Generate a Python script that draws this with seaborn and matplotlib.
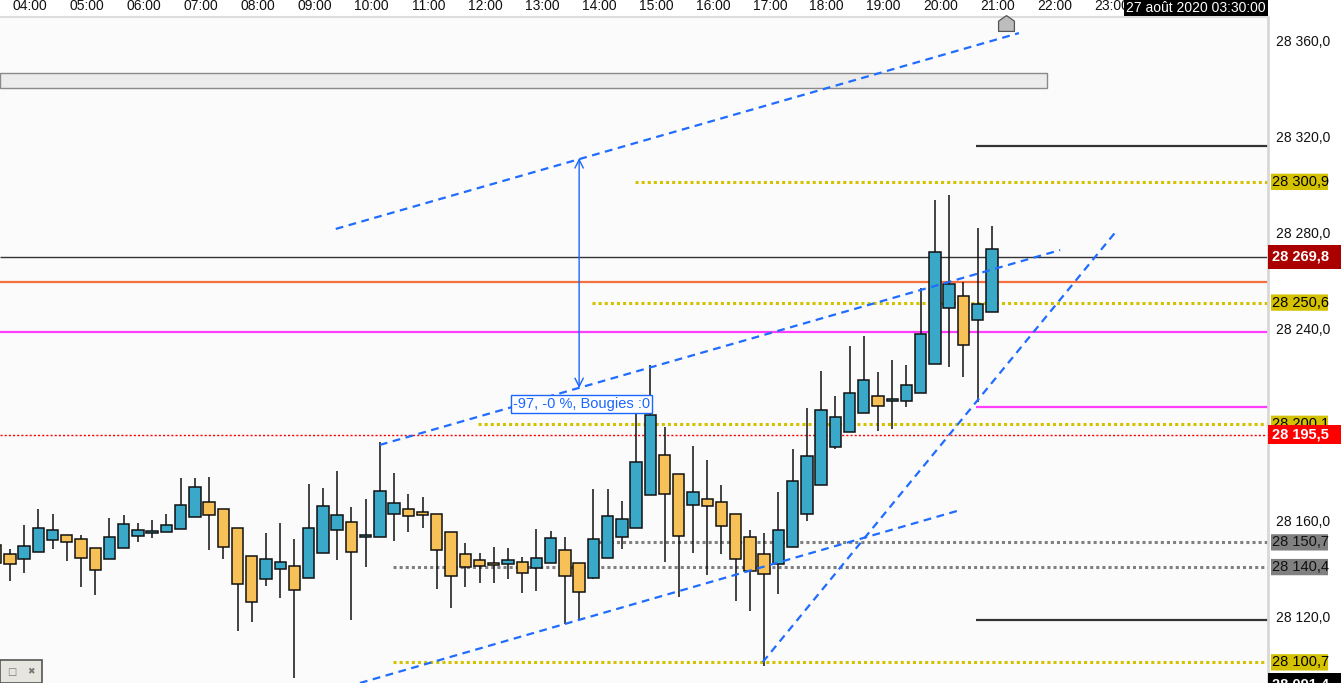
import matplotlib
matplotlib.use("Agg")
import matplotlib.pyplot as plt
import matplotlib.patches as mpatches
from matplotlib.path import Path
from matplotlib.transforms import blended_transform_factory
import numpy as np
import pandas as pd
import seaborn as sns

# 15 minute candles (first one is cut by the left edge)
opens = [28149.6, 28145.7, 28143.6, 28146.5, 28151.5, 28153.6, 28152.0, 28148.2, 28143.6, 28148.2,
         28153.2, 28154.5, 28154.9, 28156.1, 28161.1, 28167.4, 28164.5, 28156.5, 28144.9, 28135.3,
         28139.5, 28140.7, 28135.7, 28146.1, 28155.7, 28159.0, 28153.0, 28152.8, 28162.4, 28164.5,
         28163.2, 28162.4, 28154.9, 28145.7, 28143.2, 28142.0, 28141.5, 28142.4, 28139.9, 28142.0,
         28147.4, 28142.0, 28135.7, 28144.0, 28152.8, 28156.5, 28170.3, 28187.0, 28179.0, 28166.1,
         28168.6, 28167.4, 28162.4, 28152.8, 28145.7, 28141.5, 28148.6, 28162.4, 28174.5, 28190.3,
         28196.5, 28204.5, 28211.5, 28209.7, 28209.5, 28212.8, 28224.9, 28248.2, 28253.2, 28243.2,
         28246.5]
highs = [28151.0, 28147.9, 28157.9, 28164.6, 28162.5, 28153.6, 28153.6, 28148.2, 28160.8, 28162.1,
         28158.8, 28160.0, 28162.5, 28177.5, 28177.5, 28177.9, 28164.5, 28156.5, 28144.9, 28154.6,
         28158.8, 28152.0, 28175.0, 28173.3, 28180.4, 28165.5, 28168.8, 28192.4, 28179.5, 28170.7,
         28169.6, 28162.4, 28154.9, 28150.3, 28146.1, 28148.6, 28148.2, 28144.5, 28156.1, 28155.3,
         28152.8, 28142.0, 28172.8, 28172.8, 28167.8, 28204.9, 28224.5, 28198.8, 28179.0, 28190.8,
         28185.0, 28174.6, 28162.4, 28155.7, 28154.6, 28171.5, 28189.6, 28206.5, 28222.0, 28211.7,
         28232.5, 28236.7, 28221.5, 28226.5, 28224.5, 28256.5, 28293.2, 28295.4, 28259.0, 28281.5,
         28282.4]
lows = [28138.0, 28134.7, 28138.0, 28146.5, 28148.0, 28143.0, 28132.2, 28128.9, 28143.6, 28148.2,
        28150.7, 28152.6, 28154.9, 28156.1, 28161.1, 28147.6, 28143.9, 28113.9, 28117.6, 28132.6,
        28127.6, 28094.3, 28135.7, 28146.1, 28143.5, 28118.3, 28140.5, 28152.8, 28151.4, 28155.1,
        28156.5, 28131.4, 28123.5, 28132.2, 28133.9, 28133.9, 28135.5, 28129.7, 28130.5, 28142.0,
        28116.5, 28118.6, 28135.3, 28144.0, 28148.0, 28156.5, 28170.3, 28142.4, 28128.0, 28146.4,
        28137.2, 28146.0, 28126.4, 28122.2, 28099.0, 28129.3, 28148.6, 28159.7, 28174.5, 28189.7,
        28196.5, 28204.5, 28197.2, 28197.8, 28207.2, 28212.8, 28224.9, 28223.9, 28219.7, 28209.0,
        28246.5]
closes = [28142.1, 28141.5, 28149.0, 28156.5, 28155.7, 28150.7, 28144.0, 28139.0, 28152.8, 28158.2,
          28155.7, 28155.4, 28157.8, 28166.1, 28173.6, 28162.0, 28148.6, 28133.2, 28125.7, 28143.6,
          28142.4, 28130.7, 28156.5, 28165.7, 28162.0, 28146.5, 28153.0, 28172.0, 28167.0, 28161.5,
          28162.0, 28147.4, 28136.5, 28140.3, 28140.7, 28141.1, 28143.2, 28137.8, 28144.0, 28152.4,
          28136.5, 28129.9, 28152.0, 28161.5, 28160.3, 28184.0, 28203.6, 28170.7, 28153.2, 28171.5,
          28165.7, 28157.4, 28143.6, 28138.6, 28137.4, 28155.7, 28176.1, 28186.5, 28205.7, 28202.8,
          28212.8, 28218.2, 28207.4, 28209.7, 28216.1, 28237.4, 28271.5, 28258.2, 28232.8, 28249.9,
          28272.8]
first_bar = -1   # index of the cut candle on the left

hour_labels = ["%02d:00" % h for h in range(4, 24)]

# horizontal levels: (price, start index or None for full width, colour, style)
levels = {
    "dernier": (28269.8, None, "#333333", "-"),
    "orange": (28259.2, None, "#f5703f", "-"),
    "magenta": (28238.3, None, "#ff3dff", "-"),
    "rouge": (28195.5, None, "#ff0000", "dot"),
    "r2": (28300.9, 43.9, "#d4c200", "dots"),
    "r1": (28250.6, 40.9, "#d4c200", "dots"),
    "pivot": (28200.1, 32.9, "#d4c200", "dots"),
    "s1": (28100.7, 26.9, "#d4c200", "dots"),
    "g1": (28150.7, 40.9, "#808080", "dots"),
    "g2": (28140.4, 26.9, "#808080", "dots"),
    "haut_j": (28315.8, 67.9, "#333333", "-"),
    "bas_j": (28118.3, 67.9, "#333333", "-"),
    "mag_j": (28207.1, 67.9, "#ff3dff", "-"),
}

# trend lines (start index, start price, end index, end price)
trend_names = ["canal_haut", "canal_bas", "canal_large", "support"]
trend_x0 = [22.9, 26.0, 24.6, 52.9]
trend_y0 = [28281.3, 28191.3, 28092.1, 28100.8]
trend_x1 = [70.9, 73.8, 66.8, 77.8]
trend_y1 = [28362.9, 28272.5, 28164.2, 28280.8]

# price tags on the right axis
tags = [
    (28300.9, "28 300,9", "#d4c200", "black"),
    (28250.6, "28 250,6", "#d4c200", "black"),
    (28200.1, "28 200,1", "#d4c200", "black"),
    (28150.7, "28 150,7", "#808080", "#111111"),
    (28140.4, "28 140,4", "#808080", "#111111"),
    (28100.7, "28 100,7", "#d4c200", "black"),
]
wide_tags = [
    (28269.8, "28 269,8", "#aa0000", 10.0),
    (28195.5, "28 195,5", "#ff0000", 8.0),
    (28091.4, "28 091,4", "#000000", 10.0),
]
price_ticks = [28360, 28320, 28280, 28240, 28160, 28120]

sns.set_theme(style="white")
plt.rcParams["font.family"] = ["Liberation Sans", "DejaVu Sans"]

W, H = 1341, 683
fig = plt.figure(figsize=(W / 100, H / 100), dpi=100)
fig.patch.set_facecolor("white")
ax = fig.add_axes([0, 0, 1268 / W, 666 / H])
ax.set_facecolor("#fbfbfb")

idx = np.arange(first_bar, first_bar + len(opens))
o = np.array(opens)
c = np.array(closes)
up = c >= o
body_low = np.minimum(o, c)
body_h = np.maximum(np.abs(c - o), 0.6)

ax.vlines(idx, lows, highs, color="#111111", lw=1.1, zorder=2)
ax.bar(idx, body_h, bottom=body_low, width=0.8,
       color=np.where(up, "#3aa8c8", "#f8c157"), edgecolor="#111111", lw=1.1, zorder=3)

xmin, xmax = -0.69, 88.4
for name, (p, start, col, st) in levels.items():
    x0 = xmin if start is None else start
    if st == "dots":
        ax.hlines(p, x0, xmax, color=col, lw=2.2, linestyles=(0, (1, 1)), zorder=1)
    elif st == "dot":
        ax.hlines(p, x0, xmax, color=col, lw=1.0, linestyles=(0, (1.5, 1.5)), zorder=1)
    else:
        lw = 1.0 if col == "#333333" and start is None else 1.6
        ax.hlines(p, x0, xmax, color=col, lw=lw, zorder=1)

trend_df = pd.DataFrame({
    "line": trend_names * 2,
    "pos": trend_x0 + trend_x1,
    "price": trend_y0 + trend_y1,
})
sns.lineplot(data=trend_df, x="pos", y="price", units="line", estimator=None,
             color="#1f6cff", lw=1.6, linestyle=(0, (3.5, 2.5)), legend=False, ax=ax, zorder=4)

# measure arrow and its label
ax.annotate("", xy=(40, 28310.8), xytext=(40, 28215.0),
            arrowprops=dict(arrowstyle="<->,head_length=0.5,head_width=0.25",
                            color="#1a66ff", lw=1.0, shrinkA=0, shrinkB=0), zorder=5)
ax.text(35.35, 28208.3, "-97, -0 %, Bougies :0", color="#1a66ff", fontsize=10.5,
        va="center", ha="left", zorder=6,
        bbox=dict(boxstyle="square,pad=0.15", fc="white", ec="#1a66ff", lw=1.0))

# grey bar at the top
ax.add_patch(mpatches.Rectangle((xmin, 28340.0), 72.9 - xmin, 6.25, fc="#ececec",
                                ec="#8a8a8a", lw=1.0, zorder=1))
# small house marker on the time scale
house = Path([(0, 1), (1, 0.3), (1, -1), (-1, -1), (-1, 0.3), (0, 1)])
ax.scatter([70], [28366.9], marker=house, s=130, color="#bdbdbd", edgecolor="#555555",
           lw=0.9, zorder=6, clip_on=False)

ax.set_xlim(xmin, xmax)
ax.set_ylim(28092.1, 28369.6)
ax.set_xlabel("")
ax.set_ylabel("")

hour_pos = [(h * 60 - (3 * 60 + 39)) / 15 for h in range(4, 24)]
ax.xaxis.tick_top()
ax.set_xticks(hour_pos)
ax.set_xticklabels(hour_labels)
ax.yaxis.tick_right()
ax.set_yticks(price_ticks)
ax.set_yticklabels(["{:,.1f}".format(v).replace(",", " ").replace(".", ",") for v in price_ticks])
ax.tick_params(axis="x", length=0, pad=3, labelsize=10, colors="#111111")
ax.tick_params(axis="y", length=0, pad=6, labelsize=10, colors="#111111")
for s in ["left", "bottom"]:
    ax.spines[s].set_visible(False)
ax.spines["top"].set_color("#dddddd")
ax.spines["top"].set_linewidth(1.5)
ax.spines["right"].set_color("#d8d8d8")
ax.spines["right"].set_linewidth(2)

tr = blended_transform_factory(ax.transAxes, ax.transData)
px = 1 / 1268
for p, label, bg, fg in tags:
    ax.add_patch(mpatches.FancyBboxPatch((1 + 3 * px, p - 3.4), 57 * px, 6.8,
                                         boxstyle="round,pad=0,rounding_size=0.003",
                                         transform=tr, fc=bg, ec="none", clip_on=False, zorder=7))
    ax.text(1 + 4 * px, p, label, transform=tr, color=fg, fontsize=10.5, va="center",
            ha="left", clip_on=False, zorder=8)
for p, label, bg, hgt in wide_tags:
    ax.add_patch(mpatches.Rectangle((1, p - hgt / 2), 73 * px, hgt, transform=tr, fc=bg,
                                    ec="none", clip_on=False, zorder=9))
    ax.text(1 + 4 * px, p, label, transform=tr, color="white", fontsize=10.5,
            fontweight="bold", va="center", ha="left", clip_on=False, zorder=10)

# date box at the top right
fig.patches.append(mpatches.Rectangle((1124 / W, 1 - 16 / H), 144 / W, 16 / H,
                                      transform=fig.transFigure, fc="black", ec="none", zorder=10))
fig.text(1196 / W, 1 - 8 / H, "27 août 2020 03:30:00", color="white", fontsize=10,
         va="center", ha="center", zorder=11)

# little window widget bottom left
fig.patches.append(mpatches.Rectangle((0, 0), 42 / W, 23 / H, transform=fig.transFigure,
                                      fc="#e6e6de", ec="#555555", lw=1.2, zorder=10))
fig.text(12 / W, 11 / H, "\u25a1", color="#777777", fontsize=7, ha="center", va="center",
         family="DejaVu Sans", zorder=11)
fig.text(31 / W, 11 / H, "\u2716", color="#777777", fontsize=6.5, ha="center", va="center",
         family="DejaVu Sans", zorder=11)

fig.savefig("out.png", dpi=100)
